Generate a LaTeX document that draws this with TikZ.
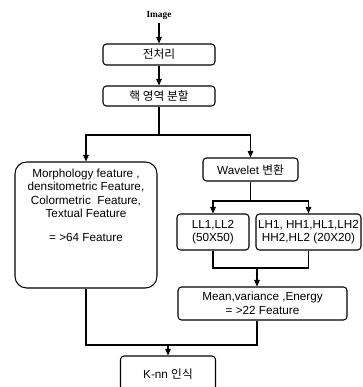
\documentclass[tikz,border=0pt]{standalone}
\usepackage{fontspec}
\setmainfont{Liberation Sans}
\newfontfamily\kr{Noto Sans CJK KR}
\newfontfamily\tms{Liberation Serif}
\usetikzlibrary{arrows.meta}

\tikzset{
  box/.style={draw, line width=0.9pt, rounded corners=3pt, align=center, inner sep=1pt,
    font=\fontsize{10}{11.5}\selectfont},
  arr/.style={-{Triangle[length=2mm,width=1.7mm]}, line width=0.9pt},
  ln/.style={line width=0.9pt}
}

\begin{document}
\begin{tikzpicture}[x=0.03cm, y=-0.03cm]
        \useasboundingbox (0,0) rectangle (363,387);

        \node[font=\tms\bfseries\fontsize{8}{9}\selectfont] (img) at (159,15) {Image};
        \node[box, minimum width=3.36cm, minimum height=0.63cm] (pre) at (159,54.5) {\kr 전처리};
        \node[box, minimum width=3.36cm, minimum height=0.6cm] (seg) at (159,96) {\kr 핵 영역 분할};
        \node[box, rounded corners=10pt, minimum width=4.26cm, minimum height=3.78cm] (feat) at (86,225)
          {Morphology feature ,\\densitometric Feature,\\Colormetric~ Feature,\\Textual Feature\\[9pt]= >64 Feature\\[22pt]~};
        \node[box, minimum width=2.85cm, minimum height=0.69cm] (wav) at (250.5,169.5) {Wavelet {\kr 변환}};
        \node[box, minimum width=2.16cm, minimum height=1.08cm] (ll) at (213,232) {LL1,LL2\\(50X50)};
        \node[box, minimum width=3.15cm, minimum height=1.08cm] (lh) at (308.5,232) {LH1, HH1,HL1,LH2\\HH2,HL2 (20X20)};
        \node[box, minimum width=5.07cm, minimum height=0.99cm] (mean) at (262.5,303.5) {Mean,variance ,Energy\\= >22 Feature};
        \node[box, minimum width=2.85cm, minimum height=1.08cm] (knn) at (168,374) {K-nn {\kr 인식}};

        \coordinate (sp1) at (159,135);
        \coordinate (sp2) at (250.5,201);
        \coordinate (mg1) at (257,268);
        \coordinate (mg2) at (168,345);

        \draw[arr] (img) -- (pre);
        \draw[arr] (pre) -- (seg);
        \draw[ln] (seg) -- (sp1);
        \draw[arr] (sp1) -| (feat);
        \draw[arr] (sp1) -| (wav);
        \draw[ln] (wav) -- (sp2);
        \draw[arr] (sp2) -| (ll);
        \draw[arr] (sp2) -| (lh);
        \draw[ln] (ll) |- (mg1);
        \draw[ln] (lh) |- (mg1);
        \draw[arr] (mg1) -- (mg1 |- mean.north);
        \draw[ln] (mean.south -| mg1) |- (mg2);
        \draw[ln] (feat) |- (mg2);
        \draw[arr] (mg2) -- (knn);
      \end{tikzpicture}
\end{document}
